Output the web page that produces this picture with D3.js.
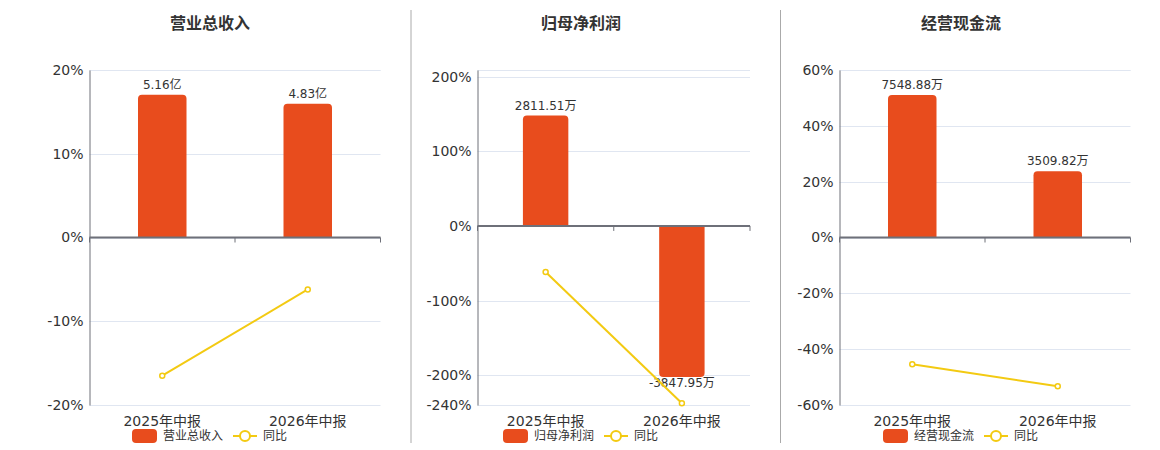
<!DOCTYPE html>
<html>
<head>
<meta charset="utf-8">
<script src="https://cdn.jsdelivr.net/npm/d3@7"></script>
<style>
  body { margin: 0; background: #fff; }
  text { font-family: "DejaVu Sans", "Noto Sans CJK SC", sans-serif; }
</style>
</head>
<body>
<script>
const width = 1160;
const height = 450;

// data
const categories = ["2025年中报", "2026年中报"];
const titles = ["营业总收入", "归母净利润", "经营现金流"];
const units = ["亿", "万", "万"];

const revenueValues = [5.16, 4.83];
const revenueYoY = [-16.5, -6.2];
const profitValues = [2811.51, -3847.95];
const profitYoY = [-61.7, -237.6];
const cashValues = [7548.88, 3509.82];
const cashYoY = [-45.4, -53.3];

const revenueTicks = [-20, -10, 0, 10, 20];
const profitTicks = [-240, -200, -100, 0, 100, 200];
const cashTicks = [-60, -40, -20, 0, 20, 40, 60];

const barColor = "#e84c1d";
const lineColor = "#f3ca12";
const plotTop = 70;
const plotBottom = 405;

const panels = [
  { title: titles[0], unit: units[0], bars: revenueValues, yoy: revenueYoY, ticks: revenueTicks,
    pctDomain: [-20, 20], barDomain: [-6.05, 6.05], left: 89.5, right: 380.5, center: 210 },
  { title: titles[1], unit: units[1], bars: profitValues, yoy: profitYoY, ticks: profitTicks,
    pctDomain: [-240, 209], barDomain: [-4560, 3971], left: 477.5, right: 750, center: 581 },
  { title: titles[2], unit: units[2], bars: cashValues, yoy: cashYoY, ticks: cashTicks,
    pctDomain: [-60, 60], barDomain: [-8880, 8880], left: 839.5, right: 1130.5, center: 961 }
];

const svg = d3
  .select("body")
  .append("svg")
  .attr("width", width)
  .attr("height", height);

// separators between panels
svg
  .selectAll("line.sep")
  .data([411, 780.5])
  .enter()
  .append("line")
  .attr("class", "sep")
  .attr("x1", (d) => d)
  .attr("x2", (d) => d)
  .attr("y1", 10)
  .attr("y2", 443)
  .attr("stroke", "#aaa");

const barPath = (x0, w, yTop, yBot, r, up) => {
  const h = yBot - yTop;
  r = Math.min(r, h / 2, w / 2);
  if (up) {
    return `M${x0},${yBot}V${yTop + r}Q${x0},${yTop} ${x0 + r},${yTop}H${x0 + w - r}Q${x0 + w},${yTop} ${x0 + w},${yTop + r}V${yBot}Z`;
  }
  return `M${x0},${yTop}V${yBot - r}Q${x0},${yBot} ${x0 + r},${yBot}H${x0 + w - r}Q${x0 + w},${yBot} ${x0 + w},${yBot - r}V${yTop}Z`;
};

panels.forEach((p) => {
  const g = svg.append("g");
  const x = d3.scaleBand().domain(categories).range([p.left, p.right]);
  const y = d3.scaleLinear().domain(p.pctDomain).range([plotBottom, plotTop]);
  const yBar = d3.scaleLinear().domain(p.barDomain).range([plotBottom, plotTop]);
  const y0 = y(0);

  // title
  g.append("text")
    .attr("x", p.center)
    .attr("y", 29)
    .attr("text-anchor", "middle")
    .attr("font-size", 16)
    .attr("font-weight", "bold")
    .attr("fill", "#333")
    .text(p.title);

  // grid
  g.selectAll("line.grid")
    .data(p.ticks.concat([p.pctDomain[1]]))
    .enter()
    .append("line")
    .attr("x1", p.left)
    .attr("x2", p.right)
    .attr("y1", (d) => Math.round(y(d)) + 0.5)
    .attr("y2", (d) => Math.round(y(d)) + 0.5)
    .attr("stroke", "#e0e6f1");

  // y axis
  const yAxis = g
    .append("g")
    .attr("transform", `translate(${p.left},0)`)
    .call(
      d3.axisLeft(y).tickValues(p.ticks).tickFormat((d) => d + "%").tickSize(0).tickPadding(6)
    );
  yAxis.select(".domain").attr("stroke", "#6e7079");
  yAxis.selectAll("text").attr("font-size", 14).attr("fill", "#333");

  // bars
  const bw = x.bandwidth() / 3;
  g.selectAll("path.bar")
    .data(p.bars)
    .enter()
    .append("path")
    .attr("d", (d, i) => {
      const x0 = x(categories[i]) + (x.bandwidth() - bw) / 2;
      const yv = yBar(d);
      return d >= 0 ? barPath(x0, bw, yv, y0, 4, true) : barPath(x0, bw, y0, yv, 4, false);
    })
    .attr("fill", barColor);

  // bar labels
  g.selectAll("text.lbl")
    .data(p.bars)
    .enter()
    .append("text")
    .attr("x", (d, i) => x(categories[i]) + x.bandwidth() / 2)
    .attr("y", (d) => (d >= 0 ? yBar(d) - 6 : yBar(d) + 10))
    .attr("text-anchor", "middle")
    .attr("font-size", 12)
    .attr("fill", "#333")
    .text((d) => d.toFixed(2) + p.unit);

  // zero line with ticks at band edges
  g.append("line")
    .attr("x1", p.left)
    .attr("x2", p.right)
    .attr("y1", y0)
    .attr("y2", y0)
    .attr("stroke", "#6e7079")
    .attr("stroke-width", 2);
  const edges = [p.left].concat(categories.map((c) => x(c) + x.bandwidth()));
  g.selectAll("line.tk")
    .data(edges)
    .enter()
    .append("line")
    .attr("x1", (d) => d)
    .attr("x2", (d) => d)
    .attr("y1", y0)
    .attr("y2", y0 + 5)
    .attr("stroke", "#6e7079");

  // category labels
  const xAxis = g
    .append("g")
    .attr("transform", `translate(0,${plotBottom})`)
    .call(d3.axisBottom(x).tickSize(0).tickPadding(11));
  xAxis.select(".domain").remove();
  xAxis.selectAll("text").attr("font-size", 14).attr("fill", "#333");

  // yoy line
  const line = d3
    .line()
    .x((d, i) => x(categories[i]) + x.bandwidth() / 2)
    .y((d) => y(d));
  g.append("path")
    .datum(p.yoy)
    .attr("d", line)
    .attr("fill", "none")
    .attr("stroke", lineColor)
    .attr("stroke-width", 2);
  g.selectAll("circle.pt")
    .data(p.yoy)
    .enter()
    .append("circle")
    .attr("cx", (d, i) => x(categories[i]) + x.bandwidth() / 2)
    .attr("cy", (d) => y(d))
    .attr("r", 2.5)
    .attr("fill", "#fff")
    .attr("stroke", lineColor)
    .attr("stroke-width", 1.5);

  // legend
  const lg = g.append("g").attr("transform", `translate(${p.center},436)`);
  lg.append("rect")
    .attr("x", -78)
    .attr("y", -7)
    .attr("width", 25)
    .attr("height", 14)
    .attr("rx", 4)
    .attr("fill", barColor);
  lg.append("text")
    .attr("x", -47)
    .attr("y", 0)
    .attr("dy", "0.35em")
    .attr("font-size", 12)
    .attr("fill", "#333")
    .text(p.title);
  lg.append("line")
    .attr("x1", 23)
    .attr("x2", 47)
    .attr("stroke", lineColor)
    .attr("stroke-width", 2);
  lg.append("circle")
    .attr("cx", 35)
    .attr("r", 5)
    .attr("fill", "#fff")
    .attr("stroke", lineColor)
    .attr("stroke-width", 2);
  lg.append("text")
    .attr("x", 53)
    .attr("y", 0)
    .attr("dy", "0.35em")
    .attr("font-size", 12)
    .attr("fill", "#333")
    .text("同比");
});
</script>
</body>
</html>
